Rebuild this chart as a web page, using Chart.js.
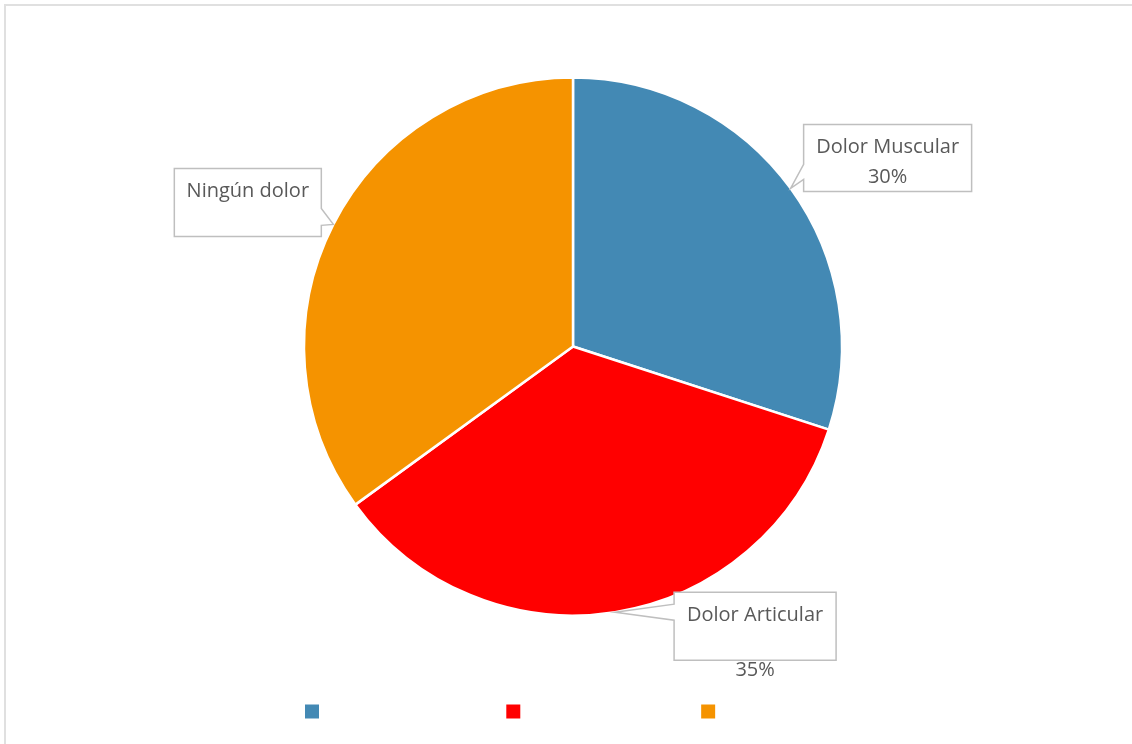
<!DOCTYPE html>
<html>
<head>
<meta charset="utf-8">
<script src="https://cdn.jsdelivr.net/npm/chart.js@4"></script>
<style>
    html, body { margin: 0; padding: 0; background: #fff; overflow: hidden; }
    #wrap { position: relative; width: 1132px; height: 744px; }
    #frame {
        position: absolute; left: 4px; top: 4px; width: 1200px; height: 800px;
        border: 2px solid #e0e0e0; box-sizing: border-box; pointer-events: none;
    }
    canvas { position: absolute; left: 0; top: 0; }
</style>
</head>
<body>
<div id="wrap">
    <canvas id="chart" width="1132" height="744"></canvas>
    <div id="frame"></div>
</div>
<script>
const categories = ['Dolor Muscular', 'Dolor Articular', 'Ningún dolor'];
const values = [30, 35, 35];
const colors = ['#4389b4', '#ff0000', '#f59300'];
// text shown in each callout (Excel only showed the % on two of them)
const calloutLines = [
    ['Dolor Muscular', '30%'],
    ['Dolor Articular', '35%'],
    ['Ningún dolor'],
];

// box placement relative to the slice tip, and where the pointer leaves the box
const calloutBoxes = [
    { dx: 13,   dy: -64, w: 168, h: 67, side: 'left',  n1: 40, n2: 55 },
    { dx: 59,   dy: -20, w: 162, h: 68, side: 'left',  n1: 12, n2: 28 },
    { dx: -159, dy: -56, w: 147, h: 68, side: 'right', n1: 40, n2: 57 },
];

const labelFont = '20px "Open Sans"';
const labelColor = '#595959';

const callouts = {
    id: 'callouts',
    afterDatasetsDraw(chart) {
        const ctx = chart.ctx;
        const meta = chart.getDatasetMeta(0);
        meta.data.forEach((arc, i) => {
            const mid = (arc.startAngle + arc.endAngle) / 2;
            const tx = arc.x + Math.cos(mid) * arc.outerRadius;
            const ty = arc.y + Math.sin(mid) * arc.outerRadius;
            const b = calloutBoxes[i];
            const x0 = tx + b.dx, y0 = ty + b.dy, x1 = x0 + b.w, y1 = y0 + b.h;

            ctx.save();
            ctx.beginPath();
            if (b.side === 'left') {
                ctx.moveTo(x0, y0);
                ctx.lineTo(x1, y0);
                ctx.lineTo(x1, y1);
                ctx.lineTo(x0, y1);
                ctx.lineTo(x0, y0 + b.n2);
                ctx.lineTo(tx, ty);
                ctx.lineTo(x0, y0 + b.n1);
            } else {
                ctx.moveTo(x0, y0);
                ctx.lineTo(x1, y0);
                ctx.lineTo(x1, y0 + b.n1);
                ctx.lineTo(tx, ty);
                ctx.lineTo(x1, y0 + b.n2);
                ctx.lineTo(x1, y1);
                ctx.lineTo(x0, y1);
            }
            ctx.closePath();
            ctx.fillStyle = '#ffffff';
            ctx.fill();
            ctx.strokeStyle = '#bfbfbf';
            ctx.lineWidth = 1.5;
            ctx.stroke();

            ctx.font = labelFont;
            ctx.fillStyle = labelColor;
            ctx.textAlign = 'center';
            ctx.textBaseline = 'middle';
            calloutLines[i].forEach((t, k) => {
                ctx.fillText(t, (x0 + x1) / 2, y0 + 23 + k * 30 + (i === 1 ? k * 25 : 0));
            });
            ctx.restore();
        });
    }
};

new Chart(document.getElementById('chart'), {
    type: 'pie',
    data: {
        labels: categories,
        datasets: [{
            data: values,
            backgroundColor: colors,
            borderColor: '#ffffff',
            borderWidth: 2.5,
            radius: 269,
        }]
    },
    options: {
        responsive: false,
        animation: false,
        layout: { padding: { left: 14, right: 0, top: 33, bottom: 13 } },
        plugins: {
            title: { display: false },
            tooltip: { enabled: false },
            legend: {
                position: 'bottom',
                labels: {
                    boxWidth: 14,
                    boxHeight: 14,
                    padding: 42,
                    color: '#ffffff',
                    font: { family: 'Open Sans', size: 19 },
                    generateLabels(chart) {
                        const items = Chart.overrides.pie.plugins.legend.labels.generateLabels(chart);
                        items.forEach(it => { it.lineWidth = 0; it.strokeStyle = it.fillStyle; });
                        return items;
                    },
                },
            },
        },
    },
    plugins: [callouts],
});
</script>
</body>
</html>
